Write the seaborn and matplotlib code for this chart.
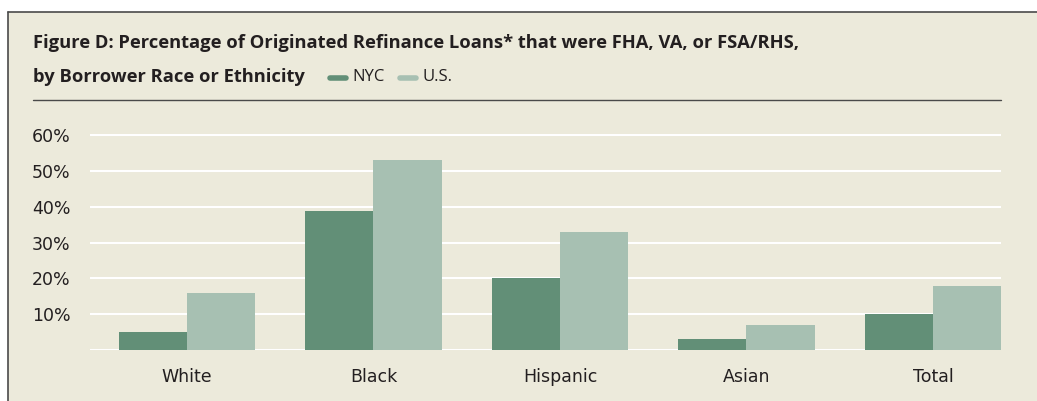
import matplotlib
matplotlib.use("Agg")
import matplotlib.pyplot as plt
import matplotlib.patches as mpatches
from matplotlib.lines import Line2D
import seaborn as sns
import pandas as pd

# Данные
categories = ['White', 'Black', 'Hispanic', 'Asian', 'Total']
nyc_values = [5, 39, 20, 3, 10]
us_values = [16, 53, 33, 7, 18]
yticks = [10, 20, 30, 40, 50, 60]

df = pd.DataFrame({
    'Group': categories * 2,
    'Value': nyc_values + us_values,
    'Area': ['NYC'] * len(categories) + ['U.S.'] * len(categories),
})

bg = '#ECEADB'
colors = {'NYC': '#628F77', 'U.S.': '#A7C0B2'}
text_col = '#231F20'

sns.set_style("white")
plt.rcParams['font.family'] = ['Open Sans', 'DejaVu Sans']

W, H = 1037, 401
fig = plt.figure(figsize=(W / 100, H / 100), dpi=100)
fig.patch.set_facecolor('white')

# фон панели с рамкой сверху и слева
fig.patches.append(mpatches.Rectangle((8 / W, 0), 1, (H - 12) / H, transform=fig.transFigure,
                                      facecolor=bg, edgecolor='none', zorder=-10))
fig.add_artist(Line2D([8 / W, 1], [(H - 12) / H] * 2, color='#4a4a4a', lw=1.2))
fig.add_artist(Line2D([8 / W] * 2, [0, (H - 12) / H], color='#4a4a4a', lw=1.2))
fig.add_artist(Line2D([33 / W, 1001 / W], [(H - 100) / H] * 2, color='#4a4a4a', lw=1.0))

# заголовок
fig.text(33 / W, (H - 43) / H, 'Figure D: Percentage of Originated Refinance Loans* that were FHA, VA, or FSA/RHS,',
         fontsize=13.2, fontweight='bold', color=text_col, va='center', ha='left')
fig.text(33 / W, (H - 77) / H, 'by Borrower Race or Ethnicity',
         fontsize=13.2, fontweight='bold', color=text_col, va='center', ha='left')

# легенда в строке заголовка
for x0, lab in [(330, 'NYC'), (400, 'U.S.')]:
    fig.add_artist(Line2D([x0 / W, (x0 + 16) / W], [(H - 78) / H] * 2, color=colors[lab],
                          lw=4, solid_capstyle='round'))
    fig.text((x0 + 22) / W, (H - 77) / H, lab, fontsize=12, color=text_col, va='center', ha='left')

ax = fig.add_axes([90 / W, 51 / H, (1001 - 90) / W, 216 / H])
ax.set_facecolor('none')
sns.barplot(data=df, x='Group', y='Value', hue='Area', palette=colors, order=categories,
            width=0.73, gap=0, saturation=1, ax=ax, legend=False, zorder=3,
            linewidth=0, edgecolor='none')

ax.set_xlim(-0.52, 4.365)
ax.set_ylim(0, 60.4)
ax.set_yticks([0] + yticks)
ax.set_yticklabels([''] + [f'{v}%' for v in yticks])
ax.yaxis.grid(True, color='white', lw=1.5, zorder=0)
ax.set_axisbelow(True)
for s in ax.spines.values():
    s.set_visible(False)
ax.tick_params(axis='both', length=0, labelsize=12.5, colors=text_col)
ax.tick_params(axis='y', pad=14)
ax.tick_params(axis='x', pad=13)
for lab in ax.get_xticklabels() + ax.get_yticklabels():
    lab.set_family(['DejaVu Sans'])
ax.set_xlabel('')
ax.set_ylabel('')

fig.savefig('out.png', dpi=100, facecolor=fig.get_facecolor())
